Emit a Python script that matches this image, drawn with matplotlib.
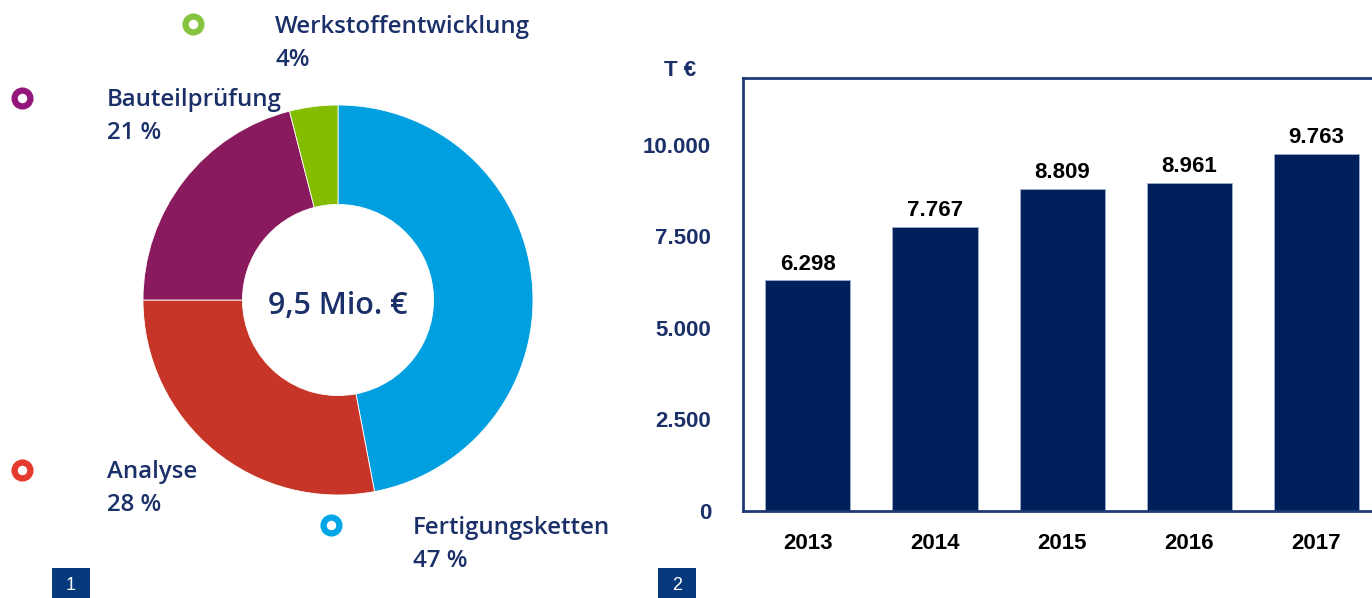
import numpy as np
import matplotlib.pyplot as plt
from matplotlib.patches import Rectangle

W, H = 1372, 598

# donut data
segments = ['Fertigungsketten', 'Analyse', 'Bauteilprüfung', 'Werkstoffentwicklung']
shares = [47, 28, 21, 4]
share_labels = ['47 %', '28 %', '21 %', '4%']
seg_colors = ['#009fe0', '#c63527', '#8a1a5e', '#84bc00']
dot_colors = ['#00a6e6', '#e53a2e', '#93177a', '#86c440']
total_label = '9,5 Mio. €'

# bar data
years = ['2013', '2014', '2015', '2016', '2017']
revenue = [6298, 7767, 8809, 8961, 9763]
value_labels = ['6.298', '7.767', '8.809', '8.961', '9.763']
yticks = [0, 2500, 5000, 7500, 10000]
ytick_labels = ['0', '2.500', '5.000', '7.500', '10.000']

navy = '#1b3068'
bar_col = '#00205b'
pie_font = 'Open Sans'
bar_font = 'Liberation Sans'

fig = plt.figure(figsize=(W / 100, H / 100), dpi=100)
fig.patch.set_facecolor('white')

def px_axes(x0, y0, x1, y1):
    # pixel box (top-left origin) -> figure axes
    return fig.add_axes([x0 / W, 1 - y1 / H, (x1 - x0) / W, (y1 - y0) / H])

# ---- donut ----
cx, cy, r = 338, 300, 195
pax = px_axes(cx - 200, cy - 200, cx + 200, cy + 200)
pax.pie(shares, colors=seg_colors, startangle=90, counterclock=False,
        radius=1.0, wedgeprops=dict(width=0.51, edgecolor='white', linewidth=0.6))
lim = 200 / r
pax.set_xlim(-lim, lim)
pax.set_ylim(-lim, lim)
pax.set_aspect('equal')
pax.axis('off')
pax.text(0, -0.03, total_label, ha='center', va='center', fontsize=22,
         color=navy, family=pie_font, fontweight='semibold')

# overlay in pixel coords for labels
ov = fig.add_axes([0, 0, 1, 1], zorder=5)
ov.set_xlim(0, W)
ov.set_ylim(H, 0)
ov.axis('off')
ov.patch.set_alpha(0)

label_pos = {'Fertigungsketten': (413, 528, 331, 525),
             'Analyse': (107, 472, 22, 470),
             'Bauteilprüfung': (107, 100, 22, 98),
             'Werkstoffentwicklung': (275, 27, 193, 24)}
for name, pct, dc in zip(segments, share_labels, dot_colors):
    tx, ty, mx, my = label_pos[name]
    ov.text(tx, ty, name, ha='left', va='center', fontsize=17.3, color=navy,
            family=pie_font, fontweight='semibold')
    ov.text(tx, ty + 33, pct, ha='left', va='center', fontsize=17.3, color=navy,
            family=pie_font, fontweight='semibold')
    ov.scatter([mx], [my], s=130, facecolor='white', edgecolor=dc, linewidth=4.5)

# number boxes
for bx, num in [(52, '1'), (658, '2')]:
    ov.add_patch(Rectangle((bx, 568), 38, 32, facecolor='#063a7c', edgecolor='none'))
    ov.text(bx + 19, 585, num, ha='center', va='center', color='white',
            fontsize=13, family=bar_font)

# ---- bars ----
bax = px_axes(743, 78, 1380, 511)
x = np.arange(len(years))
bax.bar(x, revenue, width=0.67, color=bar_col, edgecolor='#9fb0cc', linewidth=0.6)
bax.set_xlim(-0.51, 4.5)
bax.set_ylim(0, 11830)
for s in bax.spines.values():
    s.set_color('#1f3a75')
    s.set_linewidth(2)
bax.set_xticks(x)
bax.set_xticklabels(years, fontsize=16, fontweight='bold', family=bar_font)
bax.set_yticks(yticks)
bax.set_yticklabels(ytick_labels, fontsize=16, fontweight='bold',
                    family=bar_font, color=navy)
bax.tick_params(axis='both', length=0)
bax.tick_params(axis='x', pad=16)
bax.tick_params(axis='y', pad=23)
for xi, v, lab in zip(x, revenue, value_labels):
    bax.annotate(lab, (xi, v), xytext=(0, 4), textcoords='offset points',
                 ha='center', va='bottom', fontsize=16, fontweight='bold',
                 family=bar_font)
ov.text(680, 70, 'T €', ha='center', va='center', fontsize=16, fontweight='bold',
        family=bar_font, color=navy)

fig.savefig('out.png', dpi=100)
